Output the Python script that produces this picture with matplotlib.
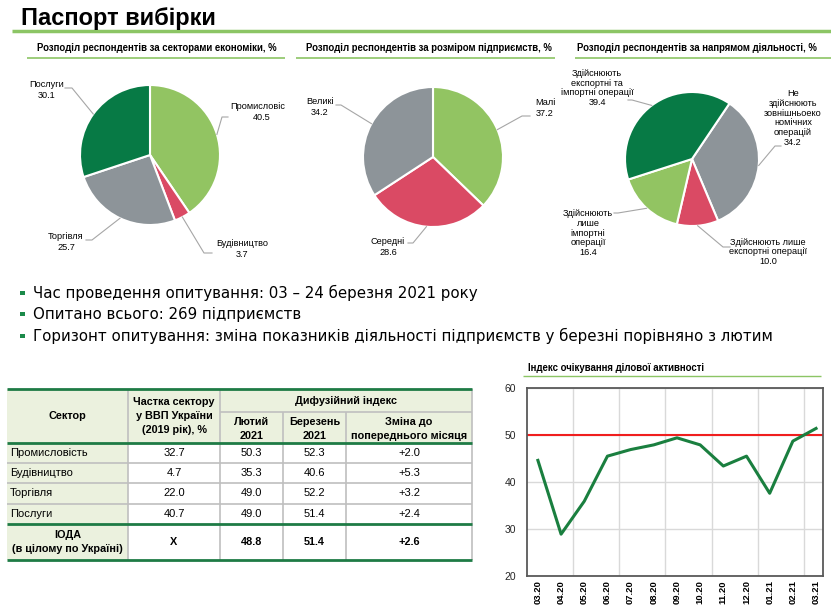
import numpy as np
import matplotlib
matplotlib.use('Agg')
import matplotlib.pyplot as plt
from matplotlib.patches import Rectangle
from matplotlib.transforms import Bbox, TransformedBbox

plt.rcParams['font.family'] = ['Liberation Sans', 'DejaVu Sans']

# ---- data ----
sector_labels = ['Промисловість', 'Будівництво', 'Торгівля', 'Послуги']
sector_share = [40.5, 3.7, 25.7, 30.1]
size_labels = ['Малі', 'Середні', 'Великі']
size_share = [37.2, 28.6, 34.2]
trade_labels = ['Не\nздійснюють\nзовнішньоеко\nномічних\nоперацій',
                'Здійснюють лише\nекспортні операції',
                'Здійснюють\nлише\nімпортні\nоперації',
                'Здійснюють\nекспортні та\nімпортні операції']
trade_share = [34.2, 10.0, 16.4, 39.4]

tbl_sectors = ['Промисловість', 'Будівництво', 'Торгівля', 'Послуги']
tbl_gdp = [32.7, 4.7, 22.0, 40.7]
tbl_feb = [50.3, 35.3, 49.0, 49.0]
tbl_mar = [52.3, 40.6, 52.2, 51.4]
tbl_chg = [2.0, 5.3, 3.2, 2.4]
iod_feb, iod_mar, iod_chg = 48.8, 51.4, 2.6

months = ['03.20', '04.20', '05.20', '06.20', '07.20', '08.20', '09.20',
          '10.20', '11.20', '12.20', '01.21', '02.21', '03.21']
bai = [44.6, 28.9, 35.9, 45.5, 46.9, 47.9, 49.4, 47.9, 43.4, 45.5, 37.6, 48.7, 51.4]

LGREEN = '#92C462'
DGREEN = '#077A45'
RED = '#DA4A64'
GRAY = '#8D9499'
LINEGREEN = '#8CC565'
TBLGREEN = '#1E7B45'
PALE = '#EBF1DE'

W, H = 831, 606
fig = plt.figure(figsize=(W / 100, H / 100), dpi=100)
ax = fig.add_axes([0, 0, 1, 1])


def Y(p):
    return H - p


# ---- title ----
ax.text(21, Y(18), 'Паспорт вибірки', fontsize=17, fontweight='bold', va='center', ha='left')
ax.plot([12, W], [Y(31), Y(31)], color=LINEGREEN, lw=2.5, solid_capstyle='butt')

# pie subtitles
subs = [('Розподіл респондентів за секторами економіки, %', 157, 27, 285),
        ('Розподіл респондентів за розміром підприємств, %', 429, 296, 555),
        ('Розподіл респондентів за напрямом діяльності, %', 697, 575, W)]
for s, xc, u0, u1 in subs:
    ax.text(xc, Y(48), s, fontsize=6.9, fontweight='bold', ha='center', va='center')
    ax.plot([u0, u1], [Y(57.5), Y(57.5)], color=LINEGREEN, lw=1.2, solid_capstyle='butt')


def draw_pie(vals, colors, cx, cy, r, start):
    wedges, _ = ax.pie(vals, colors=colors, center=(cx, Y(cy)), radius=r, startangle=start,
                       counterclock=False, wedgeprops=dict(edgecolor='white', linewidth=1.5))
    return wedges


def leader(w, cx, cy, r, pts):
    mid = np.deg2rad((w.theta1 + w.theta2) / 2)
    ex = cx + r * np.cos(mid)
    ey = Y(cy) + r * np.sin(mid)
    xs = [p[0] for p in pts] + [ex]
    ys = [Y(p[1]) for p in pts] + [ey]
    ax.plot(xs, ys, color='#A6A6A6', lw=0.8)


def clipped(t, xmax):
    t.set_clip_box(TransformedBbox(Bbox.from_extents(0, 0, xmax, H), ax.transData))
    t.set_clip_on(True)


# pie 1
w1 = draw_pie(sector_share, [LGREEN, RED, GRAY, DGREEN], 150, 155, 70, 90)
pos1 = [(262, 112), (242, 249), (66, 242), (47, 90)]
lead1 = [[(228, 117), (222, 117)], [(212, 253), (204, 253)], [(86, 240), (92, 240)], [(65, 88), (72, 88)]]
for i in range(4):
    t = ax.text(pos1[i][0], Y(pos1[i][1]), f'{sector_labels[i]}\n{sector_share[i]:.1f}', fontsize=6.6,
                ha='center', va='center', linespacing=1.15)
    if i == 0:
        clipped(t, 285)
    leader(w1[i], 150, 155, 70, lead1[i])

# pie 2
w2 = draw_pie(size_share, [LGREEN, RED, GRAY], 433, 157, 70, 90)
pos2 = [(545, 108), (388, 247), (320, 107)]
lead2 = [[(530, 116), (522, 116)], [(408, 243), (413, 243)], [(336, 105), (341, 105)]]
for i in range(3):
    t = ax.text(pos2[i][0], Y(pos2[i][1]), f'{size_labels[i]}\n{size_share[i]:.1f}', fontsize=6.6,
                ha='center', va='center', linespacing=1.15)
    if i == 0:
        clipped(t, 555)
    leader(w2[i], 433, 157, 70, lead2[i])

# pie 3
w3 = draw_pie(trade_share, [GRAY, RED, LGREEN, DGREEN], 692, 159, 67, 56)
pos3 = [(793, 118), (768, 252), (588, 233), (597, 88)]
lead3 = [[(781, 146), (775, 146)], [(730, 247), (723, 247)], [(614, 213), (618, 213)], [(628, 100), (632, 100)]]
for i in range(4):
    ax.text(pos3[i][0], Y(pos3[i][1]), f'{trade_labels[i]}\n{trade_share[i]:.1f}', fontsize=6.6,
            ha='center', va='center', linespacing=1.1)
    leader(w3[i], 692, 159, 67, lead3[i])

# ---- bullets ----
bullets = ['Час проведення опитування: 03 – 24 березня 2021 року',
           'Опитано всього: 269 підприємств',
           'Горизонт опитування: зміна показників діяльності підприємств у березні порівняно з лютим']
for k, (b, yy) in enumerate(zip(bullets, [293, 314, 336])):
    ax.add_patch(Rectangle((20, Y(yy) - 2), 4.5, 4.5, color='#1B8A4A', lw=0))
    ax.text(33, Y(yy), b, fontsize=10.8, ha='left', va='center', family=['DejaVu Sans'])

# ---- table ----
cx0, cx1, cx2, cx3, cx4, cx5 = 7, 128, 220, 283, 346, 472
ry = [389, 412, 443, 463, 483, 504, 524, 560]
ax.add_patch(Rectangle((cx0, Y(ry[2])), cx5 - cx0, ry[2] - ry[0], color=PALE, lw=0))
ax.add_patch(Rectangle((cx0, Y(ry[7])), cx1 - cx0, ry[7] - ry[2], color=PALE, lw=0))
gl = dict(color='#BFBFBF', lw=1.2, solid_capstyle='butt')
for xx in [cx1, cx2, cx5]:
    ax.plot([xx, xx], [Y(ry[0]), Y(ry[7])], **gl)
for xx in [cx3, cx4]:
    ax.plot([xx, xx], [Y(ry[1]), Y(ry[7])], **gl)
ax.plot([cx2, cx5], [Y(ry[1]), Y(ry[1])], **gl)
for yy in ry[3:6]:
    ax.plot([cx0, cx5], [Y(yy), Y(yy)], **gl)
for yy in [ry[0], ry[2], ry[6], ry[7]]:
    ax.plot([cx0, cx5], [Y(yy), Y(yy)], color=TBLGREEN, lw=2, solid_capstyle='butt')

hb = dict(fontsize=7.8, fontweight='bold', ha='center', va='center', linespacing=1.45)
ax.text((cx0 + cx1) / 2, Y(416), 'Сектор', **hb)
ax.text((cx1 + cx2) / 2, Y(416), 'Частка сектору\nу ВВП України\n(2019 рік), %', **hb)
ax.text((cx2 + cx5) / 2, Y(401), 'Дифузійний індекс', **hb)
ax.text((cx2 + cx3) / 2, Y(429), 'Лютий\n2021', **hb)
ax.text((cx3 + cx4) / 2, Y(429), 'Березень\n2021', **hb)
ax.text((cx4 + cx5) / 2, Y(429), 'Зміна до\nпопереднього місяця', **hb)

for i in range(4):
    yc = Y((ry[2 + i] + ry[3 + i]) / 2)
    ax.text(cx0 + 3, yc, tbl_sectors[i], fontsize=8, ha='left', va='center')
    ax.text((cx1 + cx2) / 2, yc, f'{tbl_gdp[i]:.1f}', fontsize=8, ha='center', va='center')
    ax.text((cx2 + cx3) / 2, yc, f'{tbl_feb[i]:.1f}', fontsize=8, ha='center', va='center')
    ax.text((cx3 + cx4) / 2, yc, f'{tbl_mar[i]:.1f}', fontsize=8, ha='center', va='center')
    ax.text((cx4 + cx5) / 2, yc, f'{tbl_chg[i]:+.1f}', fontsize=8, ha='center', va='center')

yc = Y((ry[6] + ry[7]) / 2)
ax.text((cx0 + cx1) / 2, yc, 'ІОДА\n(в цілому по Україні)', **hb)
ax.text((cx1 + cx2) / 2, yc, 'Х', **hb)
ax.text((cx2 + cx3) / 2, yc, f'{iod_feb:.1f}', **hb)
ax.text((cx3 + cx4) / 2, yc, f'{iod_mar:.1f}', **hb)
ax.text((cx4 + cx5) / 2, yc, f'{iod_chg:+.1f}', **hb)

# line chart title
ax.text(528, Y(368), 'Індекс очікування ділової активності', fontsize=6.9, fontweight='bold',
        ha='left', va='center')
ax.plot([523, 821], [Y(376), Y(376)], color=LINEGREEN, lw=1, solid_capstyle='butt')

ax.set_xlim(0, W)
ax.set_ylim(0, H)
ax.set_aspect('auto')
ax.axis('off')

# ---- line chart ----
lx = fig.add_axes([527 / W, (H - 576) / H, (823 - 527) / W, (576 - 388) / H])
xs = np.arange(len(months))
lx.plot(xs, bai, color='#1A7F3F', lw=2.2, zorder=3)
lx.axhline(50, color='#F01E1E', lw=1.5, zorder=2)
lx.set_xlim(-0.47, len(months) - 0.7)
lx.set_ylim(20, 60)
lx.set_yticks([20, 30, 40, 50, 60])
lx.set_xticks(xs)
lx.set_xticklabels(months, rotation=90, fontsize=6.8, fontweight='bold')
lx.set_xticks(np.arange(1.5, 12, 2), minor=True)
lx.grid(True, which='minor', axis='x', color='#D9D9D9', lw=1)
lx.grid(True, which='major', axis='y', color='#D9D9D9', lw=1)
lx.tick_params(axis='x', which='both', length=0, pad=3)
lx.tick_params(axis='y', length=0, labelsize=7.5, pad=8, labelcolor='#262626')
for sp in lx.spines.values():
    sp.set_color('#595959')
    sp.set_linewidth(1.3)

fig.savefig('out.png', dpi=100)
